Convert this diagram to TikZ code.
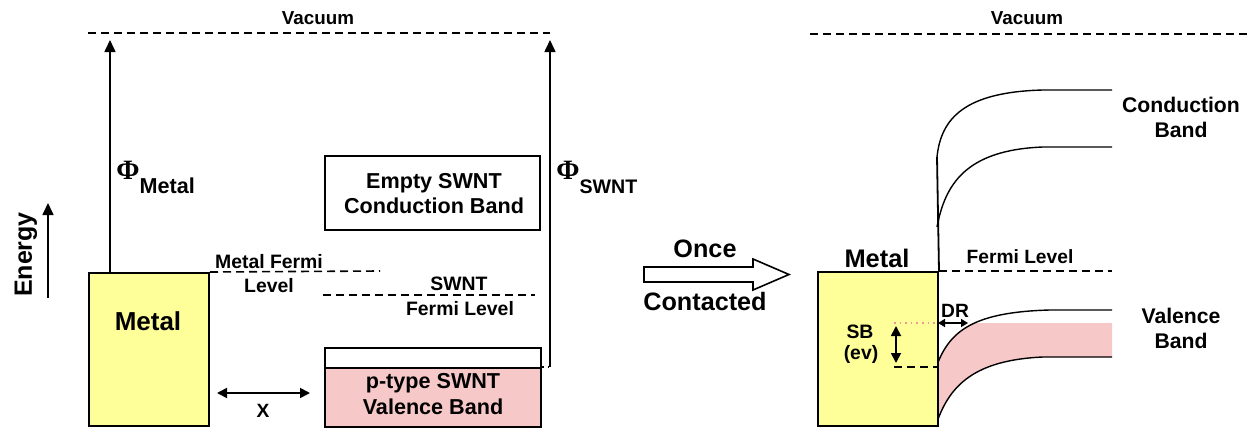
\documentclass[tikz,border=0pt]{standalone}
\usepackage{fontspec}
\setmainfont{Liberation Sans}
\newfontfamily\phifont{Liberation Serif}
\usetikzlibrary{arrows.meta}

\definecolor{metalyellow}{RGB}{255,255,153}
\definecolor{bandpink}{RGB}{247,200,200}
\definecolor{sbpink}{RGB}{238,150,150}

\def\txtsize#1{\fontsize{#1}{#1}\selectfont}

\tikzset{
  txt/.style={font=\bfseries\txtsize{#1}, inner sep=0pt, anchor=base},
  box/.style={draw, line width=1pt, inner sep=0pt, anchor=north west},
  level/.style={dash pattern=on 4pt off 2.5pt, line width=0.8pt},
  tip/.style={-{Triangle[length=6pt,width=5.5pt]}, line width=0.8pt},
  both/.style={{Triangle[length=5pt,width=5pt]}-{Triangle[length=5pt,width=5pt]}, line width=0.9pt},
  band/.style={line width=0.7pt},
}

\begin{document}
\begin{tikzpicture}[x=0.5pt, y=-0.5pt]
  \useasboundingbox (0,0) rectangle (1253,428);

  % ---- before contact ----
  \coordinate (vacL) at (88,33);
  \coordinate (vacLend) at (550,33);
  \draw[level] (vacL) -- (vacLend);
  \node[txt=9.4] (vacLtxt) at (318,25) {Vacuum};

  % energy axis
  \node[txt=12.5, rotate=90] (energy) at (32,254.5) {Energy};
  \coordinate (eBot) at (48,298);
  \coordinate (eTop) at (48,203);
  \draw[tip] (eBot) -- (eTop);

  % metal and its work function
  \node[box, fill=metalyellow, minimum width=60pt, minimum height=76.5pt] (metalL) at (88,272) {};
  \node[txt=13] (metalLtxt) at (148,330) {Metal};
  \coordinate (phiMbot) at (110,272);
  \coordinate (phiMtop) at (110,40);
  \draw[tip] (phiMbot) -- (phiMtop);
  \node[txt=10.8, anchor=base west] (phiM) at (116,179)
    {{\phifont\txtsize{14}Φ}\raisebox{-7pt}{Metal}};

  \coordinate (fermiMend) at (380,271);
  \draw[level] (metalL.north east) -- (fermiMend);
  \node[txt=9.7] (fermiMtxt) at (269,268) {Metal Fermi};
  \node[txt=9.7] (fermiMtxt2) at (269,292) {Level};

  % nanotube bands
  \node[box, minimum width=107.5pt, minimum height=37pt] (cbL) at (324,155) {};
  \node[txt=10.8] (cbLtxt) at (434,188) {Empty SWNT};
  \node[txt=10.8] (cbLtxt2) at (434,213) {Conduction Band};

  \coordinate (fermiS) at (323,295);
  \coordinate (fermiSend) at (535,295);
  \draw[level] (fermiS) -- (fermiSend);
  \node[txt=9.7] (fermiStxt) at (459,290) {SWNT};
  \node[txt=9.7] (fermiStxt2) at (460,315) {Fermi Level};

  \node[box, fill=white, minimum width=108pt, minimum height=39.5pt] (vbL) at (324,347) {};
  \node[box, fill=bandpink, minimum width=108pt, minimum height=29.5pt] (vbLfill) at (324,367) {};
  \node[txt=10.8] (vbLtxt) at (433,388) {p-type SWNT};
  \node[txt=10.8] (vbLtxt2) at (433,414) {Valence Band};

  \coordinate (phiSbot) at (550,367);
  \coordinate (phiStop) at (550,40);
  \draw[dotted, line width=0.8pt] (vbLfill.north east) -- (phiSbot);
  \draw[tip] (phiSbot) -- (phiStop);
  \node[txt=9.8, anchor=base west] (phiS) at (556,179)
    {{\phifont\txtsize{14}Φ}\raisebox{-7pt}{SWNT}};

  % separation
  \coordinate (sepL) at (217,393);
  \coordinate (sepR) at (310,393);
  \draw[both] (sepL) -- (sepR);
  \node[txt=9.6] (sepTxt) at (263,417) {X};

  % ---- contact arrow ----
  \coordinate (contact) at (644,267);
  \draw[line width=0.8pt, fill=white] (contact) -- (753,267) -- (753,259) -- (789,274.5)
    -- (753,290) -- (753,282) -- (644,282) -- cycle;
  \node[txt=12.6] (onceTxt) at (705,257) {Once};
  \node[txt=12.6] (contactTxt) at (705,310) {Contacted};

  % ---- after contact ----
  \coordinate (vacR) at (810,34);
  \coordinate (vacRend) at (1247,34);
  \draw[level] (vacR) -- (vacRend);
  \node[txt=9.4] (vacRtxt) at (1027,25) {Vacuum};

  % valence band with bent edges
  \begin{scope}
    \clip (937,323) rectangle (1112,430);
    \fill[bandpink] (937,365) .. controls (950,330) and (975,312) .. (1050,310) -- (1112,310)
      -- (1112,357) -- (1043,357) .. controls (975,360) and (950,385) .. (937,422) -- cycle;
  \end{scope}
  \draw[band] (937,365) .. controls (950,330) and (975,312) .. (1050,310) -- (1112,310);
  \draw[band] (937,422) .. controls (950,385) and (975,360) .. (1043,357) -- (1112,357);

  % conduction band with bent edges
  \coordinate (cbTop) at (937,157);
  \coordinate (cbBot) at (937,227);
  \draw[band] (cbTop) .. controls (941,118) and (965,92) .. (1043,90) -- (1112,90);
  \draw[band] (cbBot) .. controls (945,185) and (965,150) .. (1043,147) -- (1112,147);

  \node[box, fill=metalyellow, minimum width=60pt, minimum height=77pt] (metalR) at (817,271) {};
  \draw[line width=0.9pt] (metalR.north east) -- (cbTop);
  \node[txt=12.7] (metalRtxt) at (877,267) {Metal};

  \coordinate (fermiRend) at (1112,271);
  \draw[level] (metalR.north east) -- (fermiRend);
  \node[txt=9.6] (fermiRtxt) at (1020,263) {Fermi Level};

  \node[txt=10.6] (cbRtxt) at (1181,112) {Conduction};
  \node[txt=10.6] (cbRtxt2) at (1181,137) {Band};
  \node[txt=10.6] (vbRtxt) at (1181,323) {Valence};
  \node[txt=10.6] (vbRtxt2) at (1181,348) {Band};

  % barrier and depletion region
  \coordinate (sbTop) at (894,323);
  \coordinate (sbBot) at (894,367);
  \draw[sbpink, dotted, line width=0.8pt] (sbTop) -- (sbTop -| metalR.east);
  \draw[dash pattern=on 4pt off 2.5pt, line width=0.9pt] (sbBot) -- (sbBot -| metalR.east);
  \draw[both] (896,326) -- (896,363);
  \node[txt=9.7] (sbTxt) at (860,338) {SB};
  \node[txt=9.7] (sbTxt2) at (861,359) {(ev)};

  \draw[{Triangle[length=3.5pt,width=4pt]}-{Triangle[length=3.5pt,width=4pt]}, line width=0.8pt]
    (938,323) -- (968,323);
  \node[txt=9.6] (drTxt) at (955,317) {DR};
\end{tikzpicture}
\end{document}
